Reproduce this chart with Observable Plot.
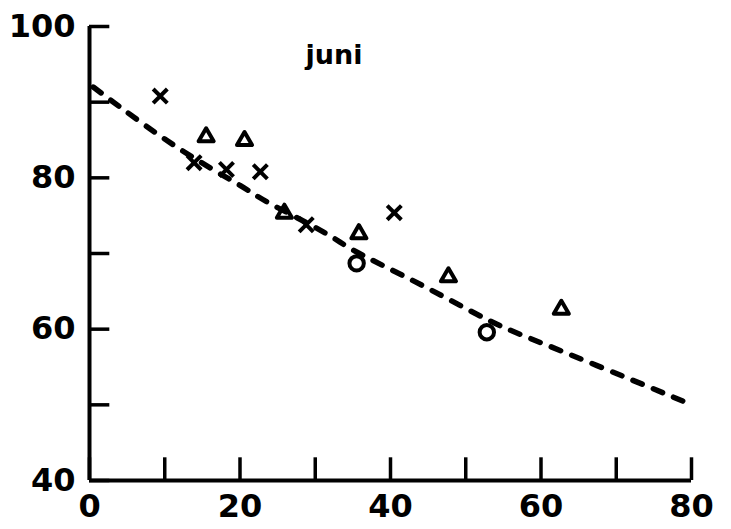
<!DOCTYPE html>
<html>
<head>
<meta charset="utf-8">
<script src="https://cdn.jsdelivr.net/npm/d3@7"></script>
<script src="https://cdn.jsdelivr.net/npm/@observablehq/plot@0.6"></script>
<style>
  html, body { margin: 0; padding: 0; background: #fff; }
</style>
</head>
<body>
<div id="chart"></div>
<script>
// Series: crosses
const crossX = [9.4, 13.9, 18.2, 22.7, 28.8, 40.5];
const crossY = [90.8, 82.0, 81.1, 80.8, 73.8, 75.4];
// Series: triangles
const triX = [15.5, 20.6, 25.9, 35.8, 47.7, 62.7];
const triY = [85.4, 84.9, 75.3, 72.6, 66.9, 62.6];
// Series: circles
const circX = [35.5, 52.8];
const circY = [68.7, 59.6];
// Dashed trend curve
const lineX = [0.5, 4, 12, 20, 24, 31, 35.5, 44, 53, 61, 74.5, 80];
const lineY = [92, 89.4, 83.8, 79.0, 76.6, 72.9, 70.2, 65.9, 61.2, 57.8, 52.3, 50.0];
// Axis ticks and labels
const xTicks = [0, 10, 20, 30, 40, 50, 60, 70, 80];
const xLabels = [0, 20, 40, 60, 80];
const yTicks = [40, 50, 60, 70, 80, 90, 100];
const yLabels = [40, 60, 80, 100];
const titleText = "juni";

const crosses = crossX.map((x, i) => ({x, y: crossY[i]}));
const triangles = triX.map((x, i) => ({x, y: triY[i]}));
const circles = circX.map((x, i) => ({x, y: circY[i]}));
const curve = lineX.map((x, i) => ({x, y: lineY[i]}));

const chart = Plot.plot({
  width: 731,
  height: 529,
  marginLeft: 89,
  marginRight: 40,
  marginTop: 26,
  marginBottom: 49,
  style: {fontFamily: "DejaVu Sans", fontSize: "32px", fontWeight: "bold", color: "black", background: "white"},
  x: {domain: [0, 80]},
  y: {domain: [40, 100]},
  marks: [
    Plot.axisX({ticks: xLabels, tickSize: 0, tickPadding: 14, label: null, fontSize: 32, fontWeight: "bold"}),
    Plot.axisY({ticks: yLabels, tickSize: 0, tickPadding: 14, label: null, fontSize: 32, fontWeight: "bold"}),
    // inside ticks
    Plot.ruleX(xTicks, {x: d => d, y1: 40, y2: 43, stroke: "black", strokeWidth: 3.5}),
    Plot.ruleY(yTicks, {y: d => d, x1: 0, x2: 2.7, stroke: "black", strokeWidth: 3.5}),
    // axis lines
    Plot.ruleX([0], {y1: 40, y2: 100, stroke: "black", strokeWidth: 4}),
    Plot.ruleY([40], {x1: 0, x2: 80, stroke: "black", strokeWidth: 4}),
    // dashed curve
    Plot.line(curve, {x: "x", y: "y", curve: "natural", stroke: "black", strokeWidth: 5.5, strokeDasharray: "10,12", strokeLinecap: "round"}),
    // markers
    Plot.dot(crosses, {x: "x", y: "y", symbol: "times", r: 6.5, stroke: "black", strokeWidth: 4}),
    Plot.dot(triangles, {x: "x", y: "y", symbol: "triangle", r: 5.6, stroke: "black", fill: "none", strokeWidth: 4, strokeLinejoin: "round"}),
    Plot.dot(circles, {x: "x", y: "y", symbol: "circle", r: 7.2, stroke: "black", fill: "none", strokeWidth: 4}),
    // title
    Plot.text([titleText], {x: 32.5, y: 96.2, text: d => d, fontSize: 27, fontWeight: "bold", fill: "black"})
  ]
});
document.getElementById("chart").appendChild(chart);
</script>
</body>
</html>
